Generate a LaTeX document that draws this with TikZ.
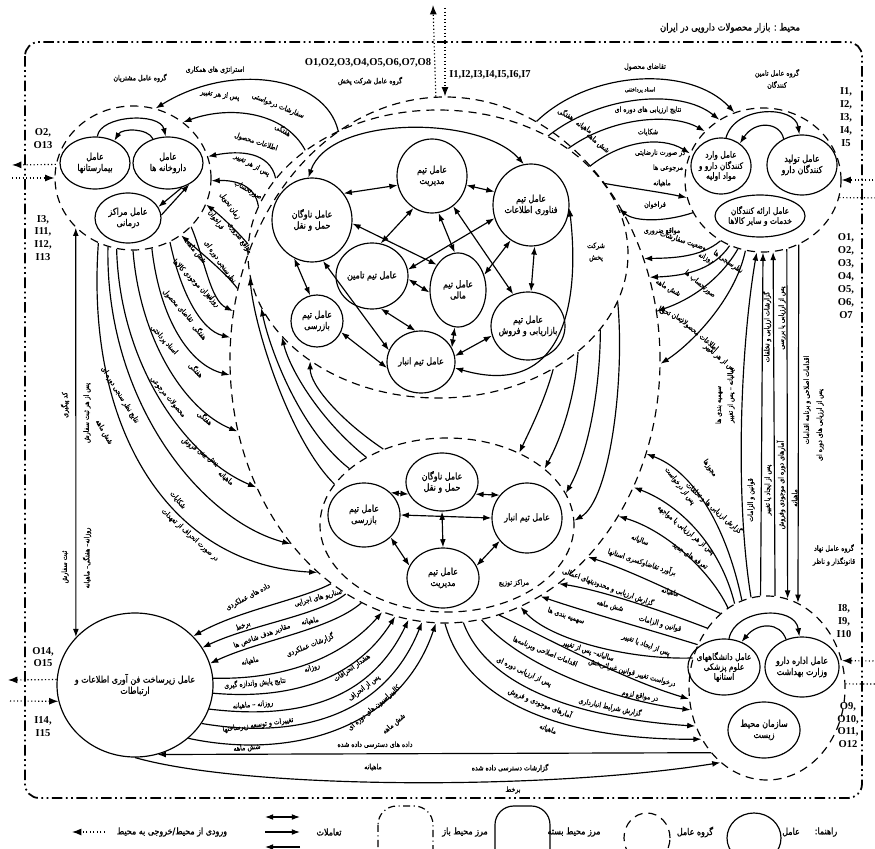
\documentclass[tikz,border=0pt]{standalone}
\usepackage{fontspec}
\setmainfont{Liberation Serif}
\newfontfamily\farsi[Script=Arabic,FakeStretch=0.85,FakeBold=1]{DejaVu Sans}
\TeXXeTstate=1
\usetikzlibrary{arrows.meta,shapes.geometric}

\newcommand\fatxt[1]{{\farsi\beginR #1\endR}}

\tikzset{
  agent/.style={draw, line width=1pt, ellipse, inner sep=-8pt, align=center, font=\fontsize{8}{9.5}\selectfont},
  group/.style={draw, line width=1pt, ellipse, inner sep=0pt, dash pattern=on 7pt off 5pt},
  lbl/.style={inner sep=0pt, font=\fontsize{6.3}{7}\selectfont},
  tag/.style={inner sep=0pt, align=center, font=\bfseries\fontsize{9}{11}\selectfont},
  flow/.style={line width=1pt, -{Latex[length=7pt,width=5pt]}},
  twoway/.style={line width=1pt, {Latex[length=7pt,width=5pt]}-{Latex[length=7pt,width=5pt]}},
  io/.style={line width=1pt, dotted, -{Latex[length=8pt,width=6pt]}},
  border/.style={line width=1.5pt, dash pattern=on 9pt off 3pt on 1.5pt off 3pt on 1.5pt off 3pt},
  legtext/.style={inner sep=0pt, font=\fontsize{8}{9}\selectfont},
}

\begin{document}
\begin{tikzpicture}[x=0.03cm, y=-0.03cm]
\useasboundingbox (0,0) rectangle (875,849);

% environment
\draw[border, rounded corners=12pt] (25,42) rectangle (862,798);
\node[legtext, font=\fontsize{8.5}{10}\selectfont] (envT) at (730,28) {\fatxt{محیط : بازار محصولات دارویی در ایران}};

% groups
\node[group, minimum width=4.68cm, minimum height=4.32cm] (custG) at (133,178) {};
\node[group, minimum width=12.9cm, minimum height=15.78cm] (compG) at (445,360) {};
\node[group, minimum width=11.4cm, minimum height=8.64cm] (teamG) at (438,254) {};
\node[group, minimum width=7.62cm, minimum height=5.22cm] (dcG) at (447,525) {};
\node[group, minimum width=4.68cm, minimum height=4.32cm] (supG) at (763,180) {};
\node[group, minimum width=4.68cm, minimum height=5.52cm] (regG) at (767,688) {};

\node[lbl] (custT) at (140,78) {\fatxt{گروه عامل مشتریان}};
\node[tag] (compO) at (368,63) {O1,O2,O3,O4,O5,O6,O7,O8};
\node[lbl] (compT) at (370,81) {\fatxt{گروه عامل شرکت پخش}};
\node[tag] (compI) at (490,75) {I1,I2,I3,I4,I5,I6,I7};
\node[lbl, align=center] (supT) at (777,79) {\fatxt{گروه عامل تامین}\\[2pt]\fatxt{کنندگان}};
\node[lbl, align=center, fill=white] (regT) at (834,555) {\fatxt{گروه عامل نهاد}\\[3pt]\fatxt{قانونگذار و ناظر}};
\node[lbl, align=center] (compT2) at (596,252) {\fatxt{شرکت}\\[3pt]\fatxt{پخش}};
\node[lbl] (dcT) at (514,583) {\fatxt{مراکز توزیع}};

% customers
\node[agent, minimum width=2.1cm, minimum height=1.56cm] (hosp) at (95,163) {\fatxt{عامل}\\\fatxt{بیمارستانها}};
\node[agent, minimum width=2.1cm, minimum height=1.56cm] (pharm) at (168,163) {\fatxt{عامل}\\\fatxt{داروخانه ها}};
\node[agent, minimum width=1.98cm, minimum height=1.5cm] (clinic) at (128,218) {\fatxt{عامل مراکز}\\\fatxt{درمانی}};

% suppliers
\node[agent, minimum width=1.8cm, minimum height=1.68cm, font=\fontsize{7.5}{8.5}\selectfont] (imp) at (721,166) {\fatxt{عامل وارد}\\\fatxt{کنندگان دارو و}\\\fatxt{مواد اولیه}};
\node[agent, minimum width=2.1cm, minimum height=1.8cm] (prod) at (802,165) {\fatxt{عامل تولید}\\\fatxt{کنندگان دارو}};
\node[agent, minimum width=2.7cm, minimum height=1.26cm, font=\fontsize{7.5}{8.5}\selectfont] (serv) at (760,216) {\fatxt{عامل ارائه کنندگان}\\\fatxt{خدمات و سایر کالاها}};

% regulators
\node[agent, minimum width=2.16cm, minimum height=1.68cm, font=\fontsize{7.5}{8.5}\selectfont] (uni) at (724,667) {\fatxt{عامل دانشگاههای}\\\fatxt{علوم پزشکی}\\\fatxt{استانها}};
\node[agent, minimum width=2.22cm, minimum height=1.8cm] (mini) at (802,667) {\fatxt{عامل اداره دارو}\\\fatxt{وزارت بهداشت}};
\node[agent, minimum width=2.16cm, minimum height=1.68cm] (envOrg) at (764,730) {\fatxt{سازمان محیط}\\\fatxt{زیست}};

% IT infrastructure
\node[agent, inner sep=-18pt, minimum width=4.68cm, minimum height=4.32cm] (itA) at (135,685) {\fatxt{عامل زیرساخت فن آوری اطلاعات و}\\\fatxt{ارتباطات}};

% company teams
\node[agent, minimum width=2.1cm, minimum height=2.22cm] (tMgmt) at (432,176) {\fatxt{عامل تیم}\\\fatxt{مدیریت}};
\node[agent, minimum width=2.28cm, minimum height=2.46cm] (tIT) at (531,205) {\fatxt{عامل تیم}\\\fatxt{فناوری اطلاعات}};
\node[agent, minimum width=2.4cm, minimum height=2.52cm] (tTrans) at (312,220) {\fatxt{عامل ناوگان}\\\fatxt{حمل و نقل}};
\node[agent, minimum width=2.16cm, minimum height=1.98cm] (tSup) at (372,276) {\fatxt{عامل تیم تامین}};
\node[agent, minimum width=1.68cm, minimum height=2.22cm] (tFin) at (458,290) {\fatxt{عامل تیم}\\\fatxt{مالی}};
\node[agent, minimum width=2.22cm, minimum height=2.04cm] (tMkt) at (528,326) {\fatxt{عامل تیم}\\\fatxt{بازاریابی و فروش}};
\node[agent, minimum width=1.56cm, minimum height=1.56cm] (tInsp) at (317,321) {\fatxt{عامل تیم}\\\fatxt{بازرسی}};
\node[agent, minimum width=2.04cm, minimum height=1.86cm] (tWare) at (421,362) {\fatxt{عامل تیم انبار}};

% distribution centres
\node[agent, minimum width=2.16cm, minimum height=1.74cm] (dTrans) at (442,482) {\fatxt{عامل ناوگان}\\\fatxt{حمل و نقل}};
\node[agent, minimum width=2.16cm, minimum height=1.92cm] (dInsp) at (364,515) {\fatxt{عامل تیم}\\\fatxt{بازرسی}};
\node[agent, minimum width=2.1cm, minimum height=2.1cm] (dWare) at (527,518) {\fatxt{عامل تیم انبار}};
\node[agent, minimum width=2.16cm, minimum height=1.8cm] (dMgmt) at (443,578) {\fatxt{عامل تیم}\\\fatxt{مدیریت}};

% side tags
\node[tag] (custO) at (43,139) {O2,\\O13};
\node[tag] (custI) at (43,238) {I3,\\I11,\\I12,\\I13};
\node[tag] (itO) at (43,657) {O14,\\O15};
\node[tag] (itI) at (43,727) {I14,\\I15};
\node[tag] (supI) at (846,117) {I1,\\I2,\\I3,\\I4,\\I5};
\node[tag] (supO) at (846,276) {O1,\\O2,\\O3,\\O4,\\O5,\\O6,\\O7};
\node[tag] (regI) at (844,621) {I8,\\I9,\\I10};
\node[tag] (regO) at (848,725) {O9,\\O10,\\O11,\\O12};

% inputs / outputs
\coordinate (outTop) at (433,5);
\coordinate (inTop) at (445,8);
\coordinate (custOut) at (12,165);
\coordinate (custIn) at (12,178);
\coordinate (supIn) at (877,180);
\coordinate (supOut) at (886,198);
\coordinate (regIn) at (877,661);
\coordinate (regOut) at (886,684);
\coordinate (itOut) at (8,680);
\coordinate (itIn) at (10,701);
\draw[io] (compG.92) -- (outTop);
\draw[io] (inTop) -- (compG.north);
\draw[io] (custG.170) -- (custOut);
\draw[io] (custIn) -- (custG.180);
\draw[io] (supIn) -- (supG.east);
\draw[io] (supG.-13) -- (supOut);
\draw[io] (regIn) -- (regG.20);
\draw[io] (regG.3) -- (regOut);
\draw[io] (itA.176) -- (itOut);
\draw[io] (itIn) -- (itA.192);

% inside groups
\draw[flow] (hosp.85) .. controls (100,115) and (160,112) .. (pharm.95);
\draw[flow] (pharm.122) .. controls (148,128) and (122,128) .. (hosp.49);
\draw[flow] (pharm.-60) -- (clinic.20);
\draw[flow] (clinic.5) -- (pharm.-45);
\draw[flow] (imp.80) .. controls (735,105) and (795,105) .. (prod.95);
\draw[flow] (prod.125) .. controls (780,122) and (755,120) .. (imp.50);
\draw[flow] (uni.80) .. controls (735,608) and (795,605) .. (mini.95);
\draw[flow] (mini.120) .. controls (780,622) and (758,622) .. (uni.55);

\draw[twoway] (tTrans.40) -- (tMgmt.195);
\draw[twoway] (tMgmt.-15) -- (tIT.160);
\draw[twoway] (tMgmt.-80) -- (tFin.95);
\draw[twoway] (tMgmt.-120) -- (tSup.75);
\draw[twoway] (tTrans.-5) -- (tFin.130);
\draw[twoway] (tIT.200) -- (tSup.10);
\draw[twoway] (tMgmt.-55) -- (tMkt.115);
\draw[twoway] (tIT.-120) -- (tFin.30);
\draw[twoway] (tIT.-85) -- (tMkt.85);
\draw[twoway] (tSup.-5) -- (tFin.185);
\draw[twoway] (tSup.-75) -- (tWare.100);
\draw[twoway] (tFin.-95) -- (tWare.25);
\draw[twoway] (tMkt.195) -- (tWare.10);
\draw[twoway] (tTrans.-115) -- (tInsp.105);
\draw[twoway] (tTrans.-75) -- (tWare.160);
\draw[twoway] (tInsp.-25) -- (tWare.190);
\draw[twoway] (tIT.-5) .. controls (580,300) and (565,400) .. (tWare.-10);
\draw[twoway] (tIT.100) .. controls (480,115) and (330,115) .. (tTrans.95);

\draw[twoway] (dTrans.200) -- (dInsp.40);
\draw[twoway] (dTrans.-20) -- (dWare.140);
\draw[twoway] (dTrans.-90) -- (dMgmt.90);
\draw[twoway] (dInsp.0) -- (dWare.180);
\draw[twoway] (dInsp.-40) -- (dMgmt.160);
\draw[twoway] (dWare.-140) -- (dMgmt.20);

% teams <-> distribution centres
\draw[flow] (dcG.160) .. controls (290,440) and (255,330) .. (teamG.187);
\draw[flow] (dcG.150) .. controls (300,430) and (270,350) .. (teamG.197);
\draw[flow] (dcG.140) .. controls (320,420) and (290,370) .. (teamG.208);
\draw[flow] (dcG.130) .. controls (340,420) and (310,385) .. (teamG.220);
\draw[flow] (teamG.-45) .. controls (545,400) and (530,430) .. (dcG.45);
\draw[flow] (teamG.-35) .. controls (575,400) and (560,440) .. (dcG.30);
\draw[flow] (teamG.-25) .. controls (600,400) and (585,460) .. (dcG.15);
\draw[flow] (teamG.-15) .. controls (625,380) and (610,500) .. (dcG.2);

% company <-> customers
\draw[flow] (compG.115) .. controls (325,75) and (230,62) .. (custG.72);
\node[lbl] (lc1a) at (215,70) {\fatxt{استراتژی های همکاری}};
\node[lbl, rotate=-8] (lc1b) at (220,95) {\fatxt{پس از هر تغییر}};
\draw[flow] (teamG.142) .. controls (285,112) and (230,105) .. (custG.48);
\node[lbl, rotate=-22] (lc2a) at (278,106) {\fatxt{سفارشات درخواستی}};
\node[lbl, rotate=-30] (lc2b) at (283,130) {\fatxt{هفتگی}};
\draw[flow] (teamG.155) .. controls (270,152) and (240,150) .. (custG.16);
\node[lbl, rotate=-18] (lc3a) at (256,142) {\fatxt{اطلاعات محصول}};
\node[lbl, rotate=-28] (lc3b) at (252,165) {\fatxt{پس از هر تغییر}};
\draw[flow] (teamG.165) .. controls (255,185) and (235,180) .. (custG.-2);
\node[lbl, rotate=-30] (lc4a) at (248,190) {\fatxt{صورتحساب}};
\draw[flow] (teamG.177) .. controls (238,232) and (220,215) .. (custG.-20);
\node[lbl, rotate=-55] (lc5a) at (230,206) {\fatxt{زمان تحویل}};
\node[lbl, rotate=-55] (lc5b) at (216,220) {\fatxt{فراخوان}};
\node[lbl, rotate=-55] (lc5c) at (240,238) {\fatxt{مواقع ضروری}};
\draw[flow] (compG.161) .. controls (225,272) and (200,252) .. (custG.-50);
\node[lbl, rotate=-55] (lc6a) at (220,262) {\fatxt{نظرسنجی دوره ای}};
\node[lbl, rotate=-50] (lc6b) at (196,252) {\fatxt{شش ماهه}};
\draw[flow] (custG.-40) .. controls (205,260) and (210,300) .. (compG.167);
\node[lbl, rotate=-45] (lc7a) at (193,280) {\fatxt{میزان موجودی کالاها}};
\node[lbl, rotate=-50] (lc7b) at (213,300) {\fatxt{روزانه}};
\draw[flow] (custG.-60) .. controls (180,290) and (200,330) .. (compG.174);
\node[lbl, rotate=-48] (lc8a) at (178,306) {\fatxt{تقاضای محصول}};
\node[lbl, rotate=-50] (lc8b) at (200,332) {\fatxt{هفتگی}};
\draw[flow] (custG.-75) .. controls (160,320) and (190,365) .. (compG.184);
\node[lbl, rotate=-48] (lc9a) at (164,340) {\fatxt{اسناد پرداختی}};
\node[lbl, rotate=-45] (lc9b) at (196,370) {\fatxt{هفتگی}};
\draw[flow] (custG.-90) .. controls (140,340) and (185,410) .. (compG.199);
\node[lbl, rotate=-50] (lc10a) at (168,397) {\fatxt{محصولات مرجوعی}};
\node[lbl, rotate=-40] (lc10b) at (205,418) {\fatxt{هفتگی}};
\draw[flow] (custG.257) .. controls (120,370) and (190,460) .. (compG.214);
\node[lbl, rotate=-35] (lc11a) at (200,452) {\fatxt{پیش بینی فروش}};
\node[lbl, rotate=-40] (lc11b) at (226,478) {\fatxt{ماهیانه}};
\draw[flow] (custG.250) .. controls (105,400) and (200,520) .. (compG.230);
\node[lbl, rotate=-50] (lc12a) at (178,500) {\fatxt{شکایات}};
\node[lbl, rotate=-42] (lc12b) at (190,535) {\fatxt{در صورت انحراف از تعهدات}};
\draw[flow] (custG.242) .. controls (85,430) and (170,565) .. (compG.239);
\node[lbl, rotate=-58] (lc13a) at (120,395) {\fatxt{نتایج نظر سنجی دوره ای}};
\node[lbl, rotate=-60] (lc13b) at (104,432) {\fatxt{شش ماهه}};

% IT <-> customers
\draw[twoway] (itA.141) -- (custG.221);
\node[lbl, rotate=90] (lv1) at (65,405) {\fatxt{کد پیگیری}};
\node[lbl, rotate=90] (lv2) at (87,413) {\fatxt{پس از هر ثبت سفارش}};
\node[lbl, rotate=90] (lv3) at (65,567) {\fatxt{ثبت سفارش}};
\node[lbl, rotate=90] (lv4) at (87,558) {\fatxt{روزانه– هفتگی– ماهیانه}};

% company <-> suppliers
\draw[flow] (compG.69) .. controls (590,70) and (690,65) .. (supG.113);
\node[lbl] (ls1) at (645,67) {\fatxt{تقاضای محصول}};
\draw[flow] (teamG.47) .. controls (600,95) and (680,88) .. (supG.126);
\node[lbl, font=\fontsize{5}{5.5}\selectfont] (ls2a) at (640,90) {\fatxt{اسناد پرداختنی}};
\node[lbl, rotate=-28] (ls2b) at (566,114) {\fatxt{هفتگی}};
\draw[flow] (teamG.39) .. controls (610,118) and (670,112) .. (supG.140);
\node[lbl] (ls3a) at (648,110) {\fatxt{نتایج ارزیابی های دوره ای}};
\node[lbl, rotate=-32] (ls3b) at (584,127) {\fatxt{ماهیانه}};
\draw[flow] (teamG.30) .. controls (620,142) and (660,135) .. (supG.160);
\node[lbl] (ls4a) at (648,132) {\fatxt{شکایات}};
\node[lbl] (ls4b) at (660,153) {\fatxt{در صورت نارضایتی}};
\node[lbl, rotate=-40] (ls4c) at (598,143) {\fatxt{شش ماهه}};
\draw[flow] (teamG.23) .. controls (630,188) and (660,192) .. (supG.193);
\node[lbl] (ls5a) at (668,168) {\fatxt{مرجوعی ها}};
\node[lbl] (ls5b) at (662,183) {\fatxt{ماهیانه}};
\draw[flow] (supG.205) .. controls (665,222) and (635,222) .. (teamG.14);
\node[lbl] (ls6a) at (655,205) {\fatxt{فراخوان}};
\node[lbl] (ls6b) at (662,231) {\fatxt{مواقع ضروری}};
\draw[flow] (supG.235) .. controls (700,258) and (670,258) .. (compG.27);
\node[lbl, rotate=-18] (ls7a) at (683,241) {\fatxt{وضعیت سفارشات}};
\node[lbl, rotate=-25] (ls7b) at (706,258) {\fatxt{روزانه}};
\draw[flow] (supG.243) .. controls (712,272) and (680,276) .. (compG.22);
\node[lbl, rotate=-35] (ls8a) at (728,262) {\fatxt{نظرسنجی ها}};
\node[lbl, rotate=-30] (ls8b) at (668,288) {\fatxt{شش ماهه}};
\draw[flow] (supG.250) .. controls (720,280) and (690,300) .. (compG.13);
\node[lbl, rotate=-40] (ls9a) at (700,284) {\fatxt{صورتحساب ها}};
\node[lbl, rotate=-25] (ls9b) at (670,314) {\fatxt{زمان تحویل}};
\draw[flow] (supG.256) .. controls (735,300) and (690,345) .. (compG.-1);
\node[lbl, rotate=-40] (ls10a) at (698,334) {\fatxt{اطلاعات محصولات}};
\node[lbl, rotate=-40] (ls10b) at (720,358) {\fatxt{پس از هر تغییر}};

% suppliers <-> regulators
\draw[flow] (regG.100) .. controls (735,500) and (740,350) .. (supG.265);
\node[lbl, rotate=90] (lv5) at (719,405) {\fatxt{سهمیه بندی ها}};
\node[lbl, rotate=90] (lv6) at (731,395) {\fatxt{سالیانه – پس از تغییر}};
\draw[flow] (regG.94) -- (supG.270);
\node[lbl, rotate=90] (lv7) at (751,500) {\fatxt{قوانین و الزامات}};
\node[lbl, rotate=90] (lv8) at (768,490) {\fatxt{پس از ایجاد یا تغییر}};
\draw[flow] (regG.85) -- (supG.278);
\node[lbl, rotate=90] (lv9) at (767,327) {\fatxt{گزارشات ارزیابی و تخلفات}};
\node[lbl, rotate=90] (lv10) at (782,318) {\fatxt{پس از ارزیابی یا بررسی}};
\draw[flow] (supG.289) -- (regG.77);
\node[lbl, rotate=90] (lv11) at (781,485) {\fatxt{آمارهای دوره ای موجودی وفروش}};
\node[lbl, rotate=90] (lv12) at (795,498) {\fatxt{ماهیانه}};
\draw[flow] (supG.299) -- (regG.70);
\node[lbl, rotate=90] (lv13) at (807,400) {\fatxt{اقدامات اصلاحی و برنامه اقدامات}};
\node[lbl, rotate=90] (lv14) at (820,425) {\fatxt{پس از ارزیابی های دوره ای}};

% regulators -> company
\draw[flow] (regG.106) .. controls (725,520) and (690,470) .. (compG.-25);
\node[lbl, rotate=-55] (lg1a) at (710,468) {\fatxt{مجوزها}};
\node[lbl, rotate=-52] (lg1b) at (680,486) {\fatxt{پس از درخواست}};
\draw[flow] (regG.111) .. controls (720,545) and (680,505) .. (compG.-34);
\node[lbl, rotate=-42] (lg2a) at (714,508) {\fatxt{گزارش ارزیابی ها و تخلفات}};
\node[lbl, rotate=-40] (lg2b) at (686,530) {\fatxt{پس از هر ارزیابی یا مواجهه}};
\draw[flow] (regG.116) .. controls (710,570) and (665,530) .. (compG.-42);
\node[lbl, rotate=-35] (lg3a) at (690,556) {\fatxt{تعرفه های جدید}};
\node[lbl, rotate=-22] (lg3b) at (640,540) {\fatxt{سالیانه}};
\draw[flow] (regG.122) .. controls (690,600) and (630,570) .. (compG.-54);
\node[lbl, rotate=-18] (lg4a) at (642,562) {\fatxt{برآورد تقاضاوکسری استانها}};
\node[lbl, rotate=-15] (lg4b) at (670,592) {\fatxt{ماهیانه}};

% regulators <-> distribution centres
\draw[flow] (regG.135) .. controls (660,610) and (600,590) .. (compG.-63);
\node[lbl, rotate=-20] (ld1a) at (608,587) {\fatxt{گزارش ارزیابی و محدودیتهای اعمالی}};
\node[lbl, rotate=-15] (ld1b) at (610,606) {\fatxt{شش ماهه}};
\draw[flow] (regG.148) .. controls (650,630) and (580,610) .. (compG.-68);
\node[lbl, rotate=-15] (ld2a) at (660,624) {\fatxt{قوانین و الزامات}};
\node[lbl, rotate=-20] (ld2b) at (646,645) {\fatxt{پس از ایجاد یا تغییر}};
\draw[flow] (regG.158) .. controls (630,660) and (550,640) .. (compG.-73);
\node[lbl, rotate=-18] (ld3a) at (566,616) {\fatxt{سهمیه بندی ها}};
\node[lbl, rotate=-18] (ld3b) at (588,651) {\fatxt{سالیانه– پس از تغییر}};
\draw[flow] (compG.-78) .. controls (550,640) and (625,680) .. (regG.188);
\node[lbl, rotate=-15] (ld4a) at (632,673) {\fatxt{درخواست تغییر قوانین غیراثربخش}};
\node[lbl, rotate=-10] (ld4b) at (640,696) {\fatxt{در مواقع لزوم}};
\draw[flow] (compG.-82) .. controls (520,665) and (610,700) .. (regG.196);
\node[lbl, rotate=-22] (ld5a) at (545,652) {\fatxt{اقدامات اصلاحی وبرنامه‌ها}};
\node[lbl, rotate=-25] (ld5b) at (524,672) {\fatxt{پس از ارزیابی دوره ای}};
\draw[flow] (compG.-86) .. controls (490,695) and (600,720) .. (regG.208);
\node[lbl, rotate=-12] (ld6a) at (610,707) {\fatxt{گزارش شرایط انبارداری}};
\draw[flow] (compG.-90) .. controls (470,715) and (590,740) .. (regG.218);
\node[lbl, rotate=-22] (ld7a) at (540,703) {\fatxt{آمارهای موجودی و فروش}};
\node[lbl, rotate=-20] (ld7b) at (548,729) {\fatxt{ماهیانه}};

% IT <-> distribution centres
\draw[flow] (compG.243) .. controls (300,600) and (240,610) .. (itA.40);
\node[lbl, rotate=28] (ll1a) at (248,597) {\fatxt{داده های عملکردی}};
\node[lbl, rotate=22] (ll1b) at (243,626) {\fatxt{برخط}};
\draw[flow] (compG.247) .. controls (320,615) and (250,625) .. (itA.29);
\node[lbl, rotate=15] (ll2a) at (318,598) {\fatxt{سناریو های اجرایی}};
\node[lbl, rotate=10] (ll2b) at (310,621) {\fatxt{ماهیانه}};
\draw[flow] (compG.251) .. controls (330,630) and (260,640) .. (itA.16);
\node[lbl, rotate=20] (ll3a) at (262,636) {\fatxt{مقادیر هدف شاخص ها}};
\node[lbl, rotate=12] (ll3b) at (250,661) {\fatxt{ماهیانه}};
\draw[flow] (itA.5) .. controls (280,680) and (340,660) .. (compG.256);
\node[lbl, rotate=22] (ll4a) at (310,645) {\fatxt{گزارشات عملکردی}};
\node[lbl, rotate=18] (ll4b) at (312,668) {\fatxt{روزانه}};
\draw[flow] (itA.-6) .. controls (290,700) and (355,680) .. (compG.259);
\node[lbl, rotate=5] (ll5a) at (255,683) {\fatxt{نتایج پایش واندازه گیری}};
\node[lbl, rotate=5] (ll5b) at (253,705) {\fatxt{روزانه – ماهیانه}};
\draw[flow] (itA.-18) .. controls (300,720) and (370,700) .. (compG.262);
\node[lbl, rotate=35] (ll6a) at (352,668) {\fatxt{هشدار انحرافات}};
\node[lbl, rotate=38] (ll6b) at (364,688) {\fatxt{پس از انحراف}};
\draw[flow] (itA.-30) .. controls (300,740) and (385,715) .. (compG.265);
\node[lbl, rotate=8] (ll7a) at (258,725) {\fatxt{تغییرات و توسعه زیرساختها}};
\node[lbl, rotate=5] (ll7b) at (247,748) {\fatxt{شش ماهه}};
\draw[flow] (itA.-45) .. controls (290,760) and (400,730) .. (compG.268);
\node[lbl, rotate=40] (ll8a) at (374,708) {\fatxt{کالیبراسیون های دوره ای}};
\node[lbl, rotate=40] (ll8b) at (394,724) {\fatxt{شش ماهه}};

% IT <-> regulators
\draw[flow] (regG.229) -- (itA.-72);
\node[lbl] (lb1a) at (375,745) {\fatxt{داده های دسترسی داده شده}};
\node[lbl] (lb1b) at (373,767) {\fatxt{ماهیانه}};
\draw[flow] (itA.-90) .. controls (250,790) and (550,790) .. (regG.238);
\node[lbl] (lb2a) at (510,768) {\fatxt{گزارشات دسترسی داده شده}};
\node[lbl] (lb2b) at (513,790) {\fatxt{برخط}};

% legend
\node[legtext] (legT) at (826,832) {\fatxt{راهنما:}};
\node[agent, minimum width=1.62cm, minimum height=1.5cm] (legAgent) at (754,838) {};
\node[legtext] (legAgentT) at (791,832) {\fatxt{عامل}};
\node[group, minimum width=1.38cm, minimum height=1.5cm] (legGroup) at (647,838) {};
\node[legtext] (legGroupT) at (695,832) {\fatxt{گروه عامل}};
\draw[line width=1pt, rounded corners=16pt] (495,806) rectangle (550,880);
\node[legtext] (legClosedT) at (574,832) {\fatxt{مرز محیط بسته}};
\draw[line width=1pt, dash pattern=on 6pt off 3pt on 1pt off 3pt, rounded corners=16pt] (378,806) rectangle (433,880);
\node[legtext] (legOpenT) at (465,832) {\fatxt{مرز محیط باز}};
\node[legtext] (legInterT) at (329,832) {\fatxt{تعاملات}};
\coordinate (legA1) at (265,817);
\coordinate (legA2) at (300,817);
\coordinate (legB1) at (265,832);
\coordinate (legB2) at (300,832);
\coordinate (legC1) at (265,847);
\coordinate (legC2) at (300,847);
\draw[twoway] (legA1) -- (legA2);
\draw[flow] (legB1) -- (legB2);
\draw[flow] (legC2) -- (legC1);
\node[legtext] (legIoT) at (172,832) {\fatxt{ورودی از محیط/خروجی به محیط}};
\coordinate (legIo1) at (72,832);
\coordinate (legIo2) at (105,832);
\draw[io] (legIo2) -- (legIo1);
\end{tikzpicture}
\end{document}
